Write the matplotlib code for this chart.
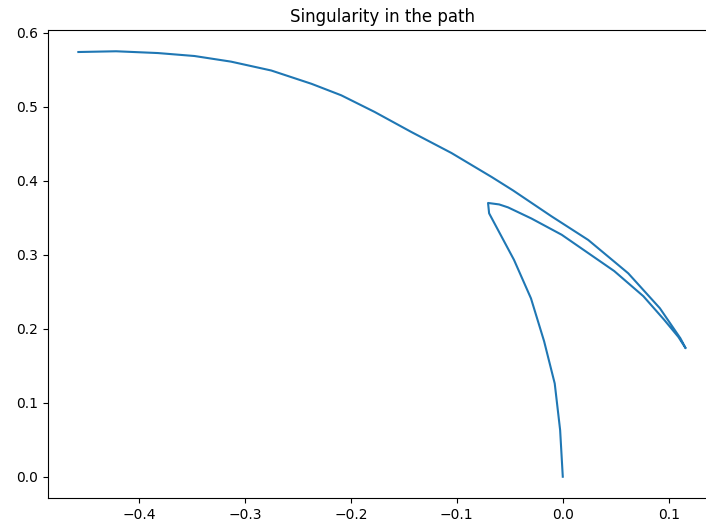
import matplotlib
matplotlib.use("Agg")
import matplotlib.pyplot as plt

x = [0.0, -0.0025, -0.0076, -0.0176, -0.030, -0.046, -0.0695, -0.0705, -0.060,
     -0.0516, -0.0296, -0.001, 0.0485, 0.076, 0.0957, 0.109, 0.1159, 0.111,
     0.0916, 0.0617, 0.024, -0.0107, -0.047, -0.067, -0.105, -0.143, -0.1775,
     -0.209, -0.237, -0.275, -0.313, -0.3475, -0.382, -0.4214, -0.457]
y = [0.0, 0.063, 0.126, 0.183, 0.241, 0.293, 0.356, 0.370, 0.368,
     0.364, 0.349, 0.327, 0.278, 0.244, 0.212, 0.189, 0.1737, 0.187,
     0.2277, 0.275, 0.320, 0.352, 0.387, 0.405, 0.4375, 0.466, 0.493,
     0.5155, 0.531, 0.549, 0.561, 0.5686, 0.5726, 0.575, 0.574]
title = "Singularity in the path"

fig = plt.figure(figsize=(7.06, 5.25), dpi=100)
W, H = 706, 525
ax = fig.add_axes([48 / W, (H - 498) / H, (716 - 48) / W, (498 - 30) / H])
ax.plot(x, y, color="#1f77b4", linewidth=1.5)
ax.set_title(title, fontsize=12)
ax.tick_params(labelsize=10)
fig.savefig("out.png", dpi=100)
